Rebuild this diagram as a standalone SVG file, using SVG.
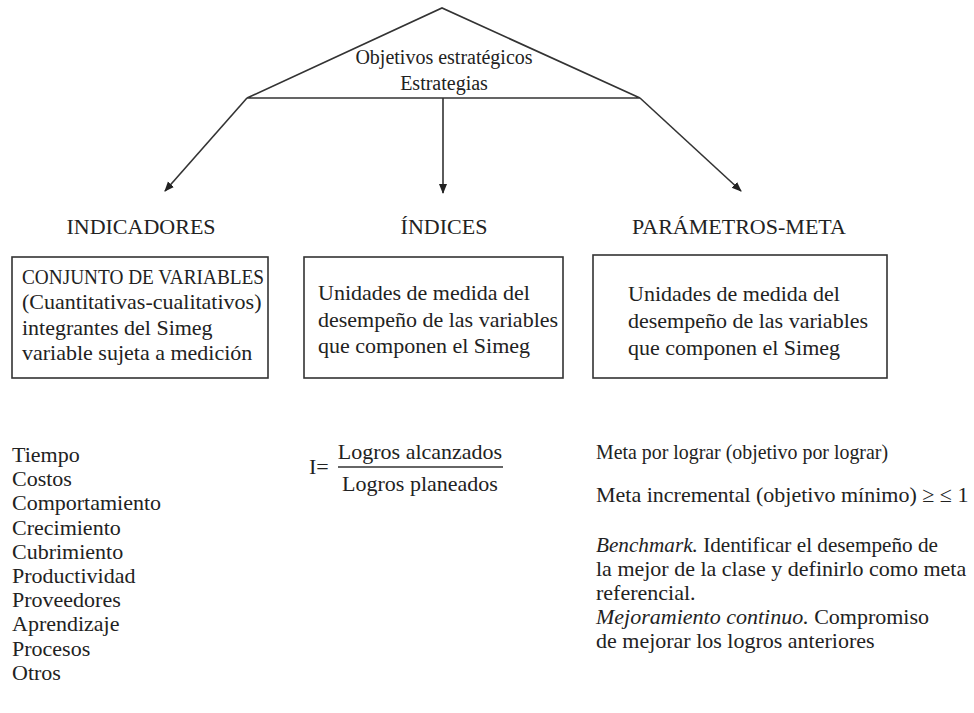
<svg xmlns="http://www.w3.org/2000/svg" width="974" height="713" viewBox="0 0 974 713">
  <defs>
    <marker id="arrow" viewBox="0 0 10 10" refX="9" refY="5" markerWidth="10" markerHeight="10" markerUnits="userSpaceOnUse" orient="auto">
      <path d="M0,1 L10,5 L0,9 Z" fill="#222"/>
    </marker>
    <style>
      text { font-family: "Liberation Serif", "Times New Roman", serif; fill: #222; }
      .head { font-size: 22px; text-anchor: middle; }
      .body { font-size: 22px; }
      .box { fill: none; stroke: #333; stroke-width: 1.6; }
      .link { fill: none; stroke: #333; stroke-width: 1.6; }
    </style>
  </defs>
  <rect width="974" height="713" fill="#fff"/>

  <!-- top node: roof-shaped triangle -->
  <g id="objetivos">
    <path d="M247,98 L442,8 L640,98 Z" class="box"/>
    <text x="444" y="64" font-size="20" text-anchor="middle">Objetivos estratégicos</text>
    <text x="444" y="90" font-size="20" text-anchor="middle">Estrategias</text>
  </g>

  <!-- connectors -->
  <g id="connectors">
    <line x1="247" y1="98" x2="165" y2="191" class="link" marker-end="url(#arrow)"/>
    <line x1="443" y1="98" x2="443" y2="193" class="link" marker-end="url(#arrow)"/>
    <line x1="640" y1="98" x2="741" y2="191" class="link" marker-end="url(#arrow)"/>
  </g>

  <g id="indicadores">
    <text x="141" y="234" class="head">INDICADORES</text>
    <rect x="12" y="257" width="256" height="121" class="box"/>
    <text x="22" y="284" class="body" textLength="242" lengthAdjust="spacingAndGlyphs">CONJUNTO DE VARIABLES</text>
    <text x="22" y="309" class="body">(Cuantitativas-cualitativos)</text>
    <text x="22" y="335" class="body">integrantes del Simeg</text>
    <text x="22" y="360" class="body">variable sujeta a medición</text>
  </g>

  <g id="indices">
    <text x="444" y="234" class="head">ÍNDICES</text>
    <rect x="304" y="257" width="259" height="121" class="box"/>
    <text x="318" y="300" class="body">Unidades de medida del</text>
    <text x="318" y="327" class="body">desempeño de las variables</text>
    <text x="318" y="353" class="body">que componen el Simeg</text>
  </g>

  <g id="parametros">
    <text x="739" y="234" class="head">PARÁMETROS-META</text>
    <rect x="593" y="255" width="294" height="123" class="box"/>
    <text x="628" y="301" class="body">Unidades de medida del</text>
    <text x="628" y="328" class="body">desempeño de las variables</text>
    <text x="628" y="355" class="body">que componen el Simeg</text>
  </g>

  <!-- indicator examples -->
  <g id="lista-indicadores">
    <text x="12" y="462" class="body">Tiempo</text>
    <text x="12" y="486" class="body">Costos</text>
    <text x="12" y="510" class="body">Comportamiento</text>
    <text x="12" y="535" class="body">Crecimiento</text>
    <text x="12" y="559" class="body">Cubrimiento</text>
    <text x="12" y="583" class="body">Productividad</text>
    <text x="12" y="607" class="body">Proveedores</text>
    <text x="12" y="631" class="body">Aprendizaje</text>
    <text x="12" y="656" class="body">Procesos</text>
    <text x="12" y="680" class="body">Otros</text>
  </g>

  <!-- index formula -->
  <g id="formula">
    <text x="309" y="474" class="body">I=</text>
    <line x1="338" y1="467" x2="503" y2="467" stroke="#333" stroke-width="1.4"/>
    <text x="420" y="459" class="body" text-anchor="middle">Logros alcanzados</text>
    <text x="420" y="491" class="body" text-anchor="middle">Logros planeados</text>
  </g>

  <!-- target parameters -->
  <g id="lista-metas">
    <text x="596" y="459" class="body" textLength="292" lengthAdjust="spacingAndGlyphs">Meta por lograr (objetivo por lograr)</text>
    <text x="596" y="502" class="body">Meta incremental (objetivo mínimo) ≥ ≤ 1</text>
    <text x="596" y="552" class="body" textLength="342" lengthAdjust="spacingAndGlyphs"><tspan font-style="italic">Benchmark.</tspan> Identificar el desempeño de</text>
    <text x="596" y="576" class="body">la mejor de la clase y definirlo como meta</text>
    <text x="596" y="600" class="body">referencial.</text>
    <text x="596" y="624" class="body"><tspan font-style="italic">Mejoramiento continuo.</tspan> Compromiso</text>
    <text x="596" y="648" class="body">de mejorar los logros anteriores</text>
  </g>
</svg>
